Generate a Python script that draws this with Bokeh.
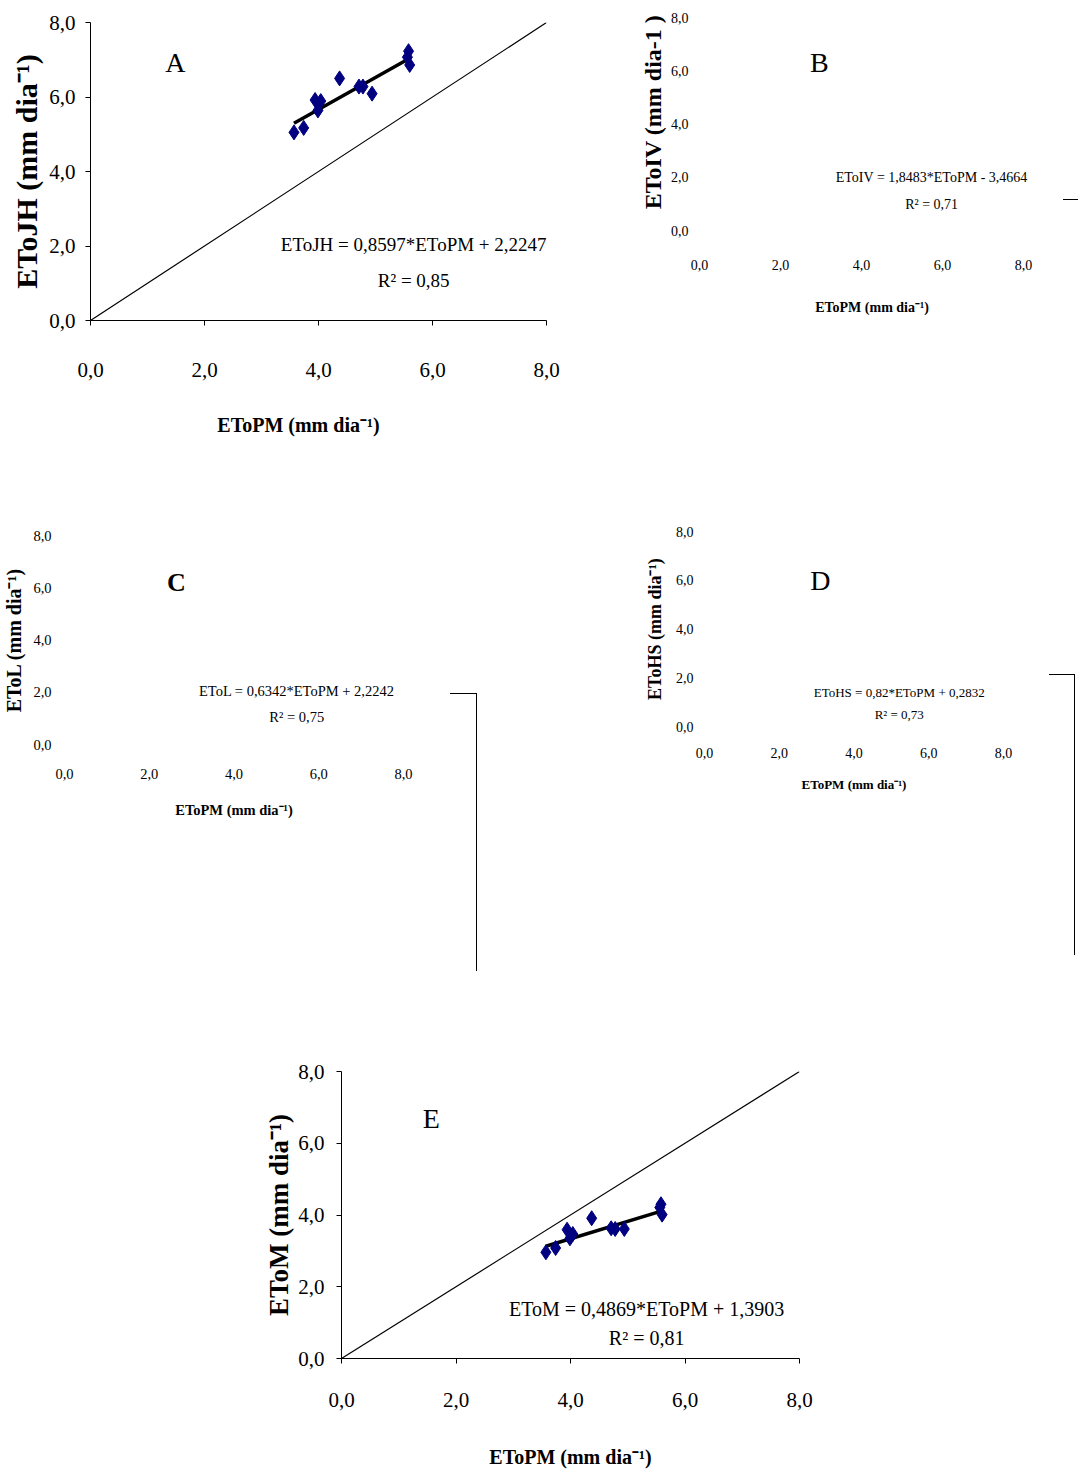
from bokeh.plotting import figure
from bokeh.layouts import column, row
from bokeh.models import FixedTicker, Label, Spacer, Range1d, Div
from bokeh.embed import file_html
from bokeh.resources import INLINE
import numpy as np

# ---------------- data ----------------
eto_pm = [3.57, 3.74, 3.94, 4.04, 3.99, 4.37, 4.71, 4.78, 4.94, 5.58, 5.56, 5.60]
eto_jh = [5.05, 5.17, 5.92, 5.89, 5.64, 6.50, 6.28, 6.28, 6.09, 7.23, 7.07, 6.86]
eto_m = [2.96, 3.08, 3.59, 3.47, 3.35, 3.91, 3.63, 3.61, 3.61, 4.30, 4.21, 4.01]

fit_jh = [0.8597, 2.2247]   # slope, intercept
fit_m = [0.4869, 1.3903]
identity_line = [0.0, 8.0]

tick_values = [0, 2, 4, 6, 8]
tick_labels = ["0,0", "2,0", "4,0", "6,0", "8,0"]

eq_a = ["EToJH = 0,8597*EToPM + 2,2247", "R² = 0,85"]
eq_b = ["EToIV = 1,8483*EToPM - 3,4664", "R² = 0,71"]
eq_c = ["EToL = 0,6342*EToPM + 2,2242", "R² = 0,75"]
eq_d = ["EToHS = 0,82*EToPM + 0,2832", "R² = 0,73"]
eq_e = ["EToM = 0,4869*EToPM + 1,3903", "R² = 0,81"]

x_title = "EToPM (mm dia⁻¹)"
y_titles = ["EToJH (mm dia⁻¹)", "EToIV (mm dia-1 )", "EToL (mm dia⁻¹)",
            "EToHS (mm dia⁻¹)", "EToM (mm dia⁻¹)"]
panel_letters = ["A", "B", "C", "D", "E"]

SERIF = "Liberation Serif"
NAVY = "#000080"
NBSP = "\u00a0"


def base_fig(w, h, left, right, top, bottom, xmax=8.0, ymin=0.0, ymax=8.0):
    p = figure(width=w, height=h, x_range=Range1d(0, xmax), y_range=Range1d(ymin, ymax),
               output_backend="svg", toolbar_location=None,
               min_border_left=left, min_border_right=right,
               min_border_top=top, min_border_bottom=bottom)
    p.grid.visible = False
    p.outline_line_color = None
    p.background_fill_color = "white"
    p.border_fill_color = "white"
    return p


def style_axis(ax, show_line, tick_size, tick_standoff, title, title_size,
               title_standoff, tick_out=5):
    ax.ticker = FixedTicker(ticks=tick_values)
    ax.major_label_overrides = dict(zip(tick_values, tick_labels))
    ax.minor_tick_line_color = None
    ax.bounds = (0, 8)
    if show_line:
        ax.axis_line_color = "black"
        ax.axis_line_width = 1
        ax.major_tick_line_color = "black"
        ax.major_tick_out = tick_out
        ax.major_tick_in = 0
    else:
        ax.axis_line_color = None
        ax.major_tick_line_color = None
        ax.major_tick_out = 0
        ax.major_tick_in = 0
    ax.major_label_text_font = SERIF
    ax.major_label_text_font_size = f"{tick_size}px"
    ax.major_label_text_color = "black"
    ax.major_label_standoff = tick_standoff
    ax.axis_label = title
    ax.axis_label_text_font = SERIF
    ax.axis_label_text_font_size = f"{title_size}px"
    ax.axis_label_text_font_style = "bold"
    ax.axis_label_text_color = "black"
    ax.axis_label_standoff = title_standoff


def add_text(p, x, y, text, size, bold=False):
    p.add_layout(Label(x=x, y=y, text=text, text_font=SERIF,
                       text_font_size=f"{size}px",
                       text_font_style="bold" if bold else "normal",
                       text_align="center", text_baseline="middle",
                       text_color="black"))


def bracket(offset, w, h, right=True):
    # stray frame corner left over in the source figure
    side = "border-right:1.5px solid black;" if right else ""
    box = Div(width=w, height=h + 4, margin=0,
              text=f'<div style="box-sizing:border-box;width:{w}px;height:{h}px;'
                   f'vertical-align:top;border-top:1.5px solid black;{side}"></div>')
    return column(Spacer(width=w, height=offset, margin=0), box)


def full_panel(p, yvals, fit):
    p.line(identity_line, identity_line, line_color="black", line_width=1.2)
    xs = np.array([min(eto_pm), max(eto_pm)])
    p.line(xs, fit[0] * xs + fit[1], line_color="black", line_width=3.5)
    p.scatter(eto_pm, yvals, marker="diamond", size=15, color=NAVY)


# ---------------- panel A ----------------
pA = base_fig(600, 460, 90, 54, 22, 140)
full_panel(pA, eto_jh, fit_jh)
style_axis(pA.xaxis[0], True, 21, 37, x_title + NBSP * 8, 20, 34)
style_axis(pA.yaxis[0], True, 21, 10, y_titles[0], 30, 3)
add_text(pA, 5.67, 2.04, eq_a[0], 19)
add_text(pA, 5.67, 1.07, eq_a[1], 19)
add_text(pA, 1.49, 6.93, panel_letters[0], 28)

# ---------------- panel B ----------------
pB = base_fig(463, 460, 99, 33, 17, 230, xmax=8.17)
style_axis(pB.xaxis[0], False, 14, 29, NBSP * 4 + x_title, 14, 27)
style_axis(pB.yaxis[0], False, 14, 11, NBSP * 4 + y_titles[1], 24, 2)
add_text(pB, 5.73, 1.99, eq_b[0], 14)
add_text(pB, 5.73, 0.98, eq_b[1], 14)
add_text(pB, 2.96, 6.32, panel_letters[1], 28)

# ---------------- panel C ----------------
pC = base_fig(450, 520, 63, 47, 75, 236)
style_axis(pC.xaxis[0], False, 14.5, 24, x_title, 14.5, 20)
style_axis(pC.yaxis[0], False, 14.5, 13, y_titles[2], 20, 5)
add_text(pC, 5.48, 2.03, eq_c[0], 14.5)
add_text(pC, 5.48, 1.07, eq_c[1], 14.5)
add_text(pC, 2.64, 6.2, panel_letters[2], 26, bold=True)

# ---------------- panel D ----------------
pD = base_fig(572, 520, 227, 46, 71, 254)
style_axis(pD.xaxis[0], False, 14, 21, x_title, 13, 16)
style_axis(pD.yaxis[0], False, 14, 11, y_titles[3], 18, 8)
add_text(pD, 5.21, 1.39, eq_d[0], 13)
add_text(pD, 5.21, 0.49, eq_d[1], 13)
add_text(pD, 3.10, 5.98, panel_letters[3], 28)

# ---------------- panel E ----------------
pE = base_fig(580, 492, 100, 22, 91, 114)
full_panel(pE, eto_m, fit_m)
style_axis(pE.xaxis[0], True, 21, 29, x_title, 20, 36)
style_axis(pE.yaxis[0], True, 21, 12, y_titles[4], 27, 1)
add_text(pE, 5.33, 1.39, eq_e[0], 20)
add_text(pE, 5.33, 0.56, eq_e[1], 20)
add_text(pE, 1.57, 6.69, panel_letters[4], 28)

row1 = row(column(pA), column(pB), bracket(199, 15, 30, right=False))
row2 = row(column(pC), bracket(233, 27, 278), column(pD), bracket(214, 26, 281))
row3 = row(Spacer(width=241, height=492, margin=0), column(pE))
layout = column(row1, row2, row3)

open("out.html", "w").write(file_html(layout, INLINE))
